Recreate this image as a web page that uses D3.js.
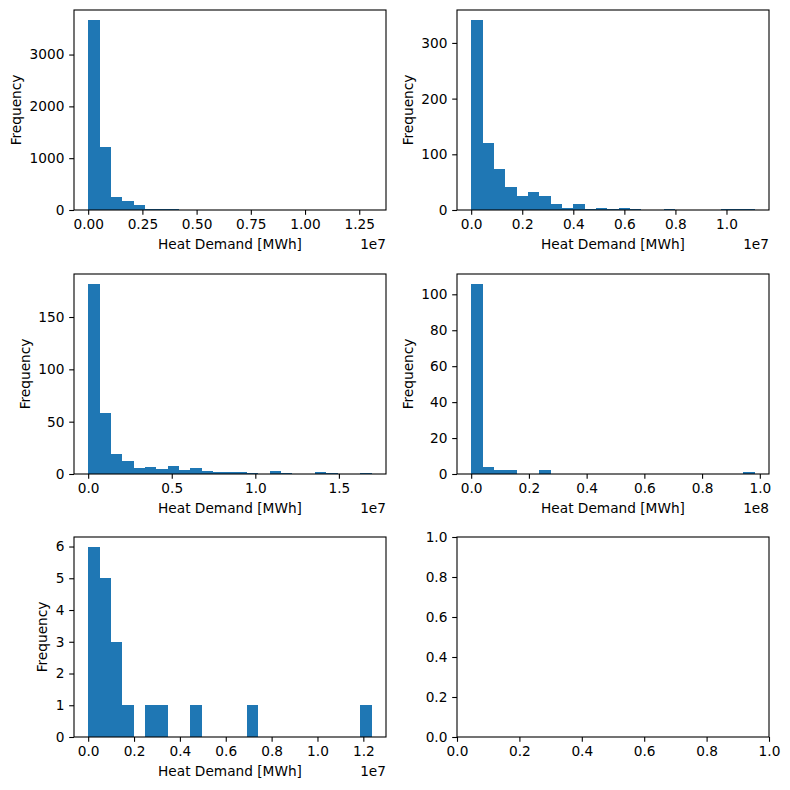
<!DOCTYPE html>
<html>
<head>
<meta charset="utf-8">
<script src="https://cdn.jsdelivr.net/npm/d3@7"></script>
<style>
  body { margin: 0; background: #fff; }
  svg { display: block; font-family: "DejaVu Sans", sans-serif; }
</style>
</head>
<body>
<svg id="fig" width="790" height="790"></svg>
<script>
// histogram counts, 25 bins per panel
var countsA = [3676, 1212, 245, 167, 90, 14, 13, 12, 0, 0, 0, 0, 0, 0, 0, 0, 0, 0, 0, 0, 0, 0, 0, 0, 1];
var countsB = [342, 120, 73, 42, 25, 33, 26, 10, 3, 11, 1, 4, 2, 4, 2, 0, 0, 2, 0, 0, 0, 0, 2, 2, 2];
var countsC = [182, 58, 19, 12, 6, 7, 5, 8, 4, 6, 3, 2, 2, 2, 1, 0, 3, 1, 0, 0, 2, 1, 0, 0, 1];
var countsD = [106, 4, 2, 2, 0, 0, 2, 0, 0, 0, 0, 0, 0, 0, 0, 0, 0, 0, 0, 0, 0, 0, 0, 0, 1];
var countsE = [6, 5, 3, 1, 0, 1, 1, 0, 0, 1, 0, 0, 0, 0, 1, 0, 0, 0, 0, 0, 0, 0, 0, 0, 1];

// data range (min, max) of heat demand in MWh
var rangeA = [0, 1.308e7];
var rangeB = [0, 1.111e7];
var rangeC = [0, 1.697e7];
var rangeD = [0, 0.9827e8];
var rangeE = [0, 1.237e7];

// tick labels (x in offset units)
var xTicksA = ["0.00", "0.25", "0.50", "0.75", "1.00", "1.25"];
var xTicksB = ["0.0", "0.2", "0.4", "0.6", "0.8", "1.0"];
var xTicksC = ["0.0", "0.5", "1.0", "1.5"];
var xTicksD = ["0.0", "0.2", "0.4", "0.6", "0.8", "1.0"];
var xTicksE = ["0.0", "0.2", "0.4", "0.6", "0.8", "1.0", "1.2"];
var offsets = [7, 7, 7, 8, 7];

var yTicksA = [0, 1000, 2000, 3000];
var yTicksB = [0, 100, 200, 300];
var yTicksC = [0, 50, 100, 150];
var yTicksD = [0, 20, 40, 60, 80, 100];
var yTicksE = [0, 1, 2, 3, 4, 5, 6];

var emptyTicks = ["0.0", "0.2", "0.4", "0.6", "0.8", "1.0"];

var xLabel = "Heat Demand [MWh]";
var yLabel = "Frequency";
var nBins = 25;
var barColor = "#1f77b4";

var panels = [
  {counts: countsA, range: rangeA, xt: xTicksA, yt: yTicksA, exp: offsets[0]},
  {counts: countsB, range: rangeB, xt: xTicksB, yt: yTicksB, exp: offsets[1]},
  {counts: countsC, range: rangeC, xt: xTicksC, yt: yTicksC, exp: offsets[2]},
  {counts: countsD, range: rangeD, xt: xTicksD, yt: yTicksD, exp: offsets[3]},
  {counts: countsE, range: rangeE, xt: xTicksE, yt: yTicksE, exp: offsets[4]}
];

// layout of the 3x2 grid
var colX = [74, 457], rowY = [10, 274, 537];
var W = 312, H = 200;
var fs = 13.7, tick = 4.8, pad = 4.8;

var svg = d3.select("#fig");

function frame(g) {
  g.append("rect")
    .attr("width", W).attr("height", H)
    .attr("fill", "none").attr("stroke", "#000").attr("stroke-width", 1.1);
}

function styleAxis(ax) {
  ax.select(".domain").remove();
  ax.selectAll(".tick line").attr("stroke", "#000").attr("stroke-width", 1.1);
  ax.selectAll(".tick text").attr("fill", "#000").style("font-size", fs + "px")
    .style("font-family", "DejaVu Sans");
}

panels.forEach(function(p, i) {
  var g = svg.append("g")
    .attr("transform", "translate(" + colX[i % 2] + "," + rowY[Math.floor(i / 2)] + ")");

  var lo = p.range[0], hi = p.range[1], span = hi - lo;
  var x = d3.scaleLinear().domain([lo - 0.05 * span, hi + 0.05 * span]).range([0, W]);
  var ymax = d3.max(p.counts);
  var y = d3.scaleLinear().domain([0, ymax * 1.05]).range([H, 0]);

  var step = span / nBins;
  var bins = p.counts.map(function(c, k) {
    return {x0: lo + k * step, x1: lo + (k + 1) * step, n: c};
  });

  g.selectAll(".bar")
    .data(bins.filter(function(d) { return d.n > 0; }))
    .enter().append("rect")
    .attr("class", "bar")
    .attr("x", function(d) { return x(d.x0); })
    .attr("width", function(d) { return x(d.x1) - x(d.x0); })
    .attr("y", function(d) { return y(d.n); })
    .attr("height", function(d) { return H - y(d.n); })
    .attr("fill", barColor)
    .attr("shape-rendering", "crispEdges");

  var mult = Math.pow(10, p.exp);
  var xAxis = d3.axisBottom(x)
    .tickValues(p.xt.map(function(s) { return +s * mult; }))
    .tickFormat(function(d, k) { return p.xt[k]; })
    .tickSize(tick).tickPadding(pad);
  var xa = g.append("g").attr("transform", "translate(0," + H + ")").call(xAxis);
  styleAxis(xa);

  var yAxis = d3.axisLeft(y).tickValues(p.yt).tickFormat(d3.format("d"))
    .tickSize(tick).tickPadding(pad);
  var ya = g.append("g").call(yAxis);
  styleAxis(ya);

  frame(g);

  // x label and offset text
  g.append("text")
    .attr("x", W / 2).attr("y", H + 39.3)
    .attr("text-anchor", "middle")
    .style("font-size", fs + "px")
    .text(xLabel);
  g.append("text")
    .attr("x", W).attr("y", H + 38.6)
    .attr("text-anchor", "end")
    .style("font-size", fs + "px")
    .text("1e" + p.exp);

  // y label sits left of the tick labels
  var bb = ya.node().getBBox();
  var lx = bb.x - 5.5 - 3.2;
  g.append("text")
    .attr("transform", "translate(" + lx + "," + (H / 2) + ") rotate(-90)")
    .attr("text-anchor", "middle")
    .style("font-size", fs + "px")
    .text(yLabel);
});

// empty sixth axes
(function() {
  var g = svg.append("g").attr("transform", "translate(" + colX[1] + "," + rowY[2] + ")");
  var x = d3.scaleLinear().domain([0, 1]).range([0, W]);
  var y = d3.scaleLinear().domain([0, 1]).range([H, 0]);
  var xa = g.append("g").attr("transform", "translate(0," + H + ")")
    .call(d3.axisBottom(x).tickValues(emptyTicks.map(Number))
      .tickFormat(function(d, k) { return emptyTicks[k]; })
      .tickSize(tick).tickPadding(pad));
  styleAxis(xa);
  var ya = g.append("g")
    .call(d3.axisLeft(y).tickValues(emptyTicks.map(Number))
      .tickFormat(function(d, k) { return emptyTicks[k]; })
      .tickSize(tick).tickPadding(pad));
  styleAxis(ya);
  frame(g);
})();
</script>
</body>
</html>
